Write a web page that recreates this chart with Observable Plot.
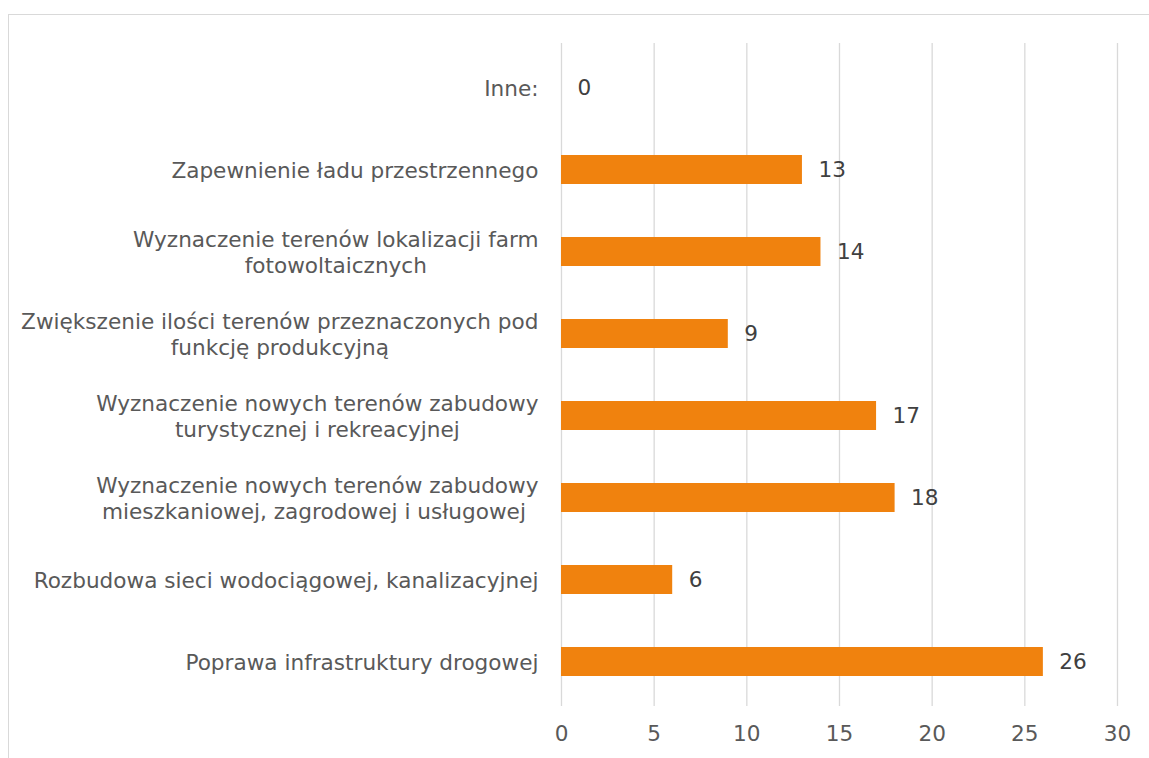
<!DOCTYPE html>
<html>
<head>
<meta charset="utf-8">
<script src="https://cdn.jsdelivr.net/npm/d3@7"></script>
<script src="https://cdn.jsdelivr.net/npm/@observablehq/plot@0.6"></script>
<style>
  html, body { margin: 0; padding: 0; background: #fff; overflow: hidden; }
  #wrap { position: relative; width: 1149px; height: 758px; }
  #frame { position: absolute; left: 8px; top: 14px; width: 1200px; height: 800px;
           border-left: 1.5px solid #d9d9d9; border-top: 1.5px solid #d9d9d9; }
  #chart { position: absolute; left: 0; top: 0; }
</style>
</head>
<body>
<div id="wrap"><div id="frame"></div><div id="chart"></div></div>
<script>
const categories = [
  "Inne:",
  "Zapewnienie ładu przestrzennego",
  "Wyznaczenie terenów lokalizacji farm\nfotowoltaicznych",
  "Zwiększenie ilości terenów przeznaczonych pod\nfunkcję produkcyjną",
  "Wyznaczenie nowych terenów zabudowy\nturystycznej i rekreacyjnej",
  "Wyznaczenie nowych terenów zabudowy\nmieszkaniowej, zagrodowej i usługowej ",
  "Rozbudowa sieci wodociągowej, kanalizacyjnej",
  "Poprawa infrastruktury drogowej"
];
const values = [0, 13, 14, 9, 17, 18, 6, 26];
const xTicks = [0, 5, 10, 15, 20, 25, 30];

const data = categories.map((c, i) => ({category: c, value: values[i]}));
const FONT = "'DejaVu Sans', sans-serif";
const FS = 21.6;

const chart = Plot.plot({
  width: 1149,
  height: 758,
  marginLeft: 561,
  marginRight: 32,
  marginTop: 43,
  marginBottom: 52,
  style: {fontFamily: FONT, fontSize: FS + "px", color: "#595959", background: "transparent"},
  x: {domain: [0, 30], ticks: xTicks, label: null},
  y: {domain: categories, paddingInner: 0.65, paddingOuter: 0.325, label: null},
  marks: [
    Plot.gridX(xTicks, {stroke: "#d9d9d9", strokeOpacity: 1, strokeWidth: 1.3}),
    Plot.axisX({ticks: xTicks, tickSize: 0, tickPadding: 19, fontSize: FS, fill: "#595959", label: null}),
    Plot.axisY({tickSize: 0, tickPadding: 23, fontSize: FS, fill: "#595959", lineHeight: 1.2, label: null}),
    Plot.barX(data, {x: "value", y: "category", fill: "#F0820E"}),
    Plot.text(data, {x: "value", y: "category", text: d => String(d.value), textAnchor: "start", dx: 16, fontSize: FS, fill: "#404040"})
  ]
});
document.getElementById("chart").appendChild(chart);

// center multi-line y tick labels within their right-aligned block (as in the reference)
chart.querySelectorAll("g[aria-label='y-axis tick label'] text").forEach(t => {
  const spans = t.querySelectorAll("tspan");
  if (spans.length < 2) return;
  let maxW = 0;
  spans.forEach(s => { maxW = Math.max(maxW, s.getComputedTextLength()); });
  t.setAttribute("text-anchor", "middle");
  spans.forEach(s => { s.setAttribute("x", -maxW / 2); });
});
</script>
</body>
</html>
